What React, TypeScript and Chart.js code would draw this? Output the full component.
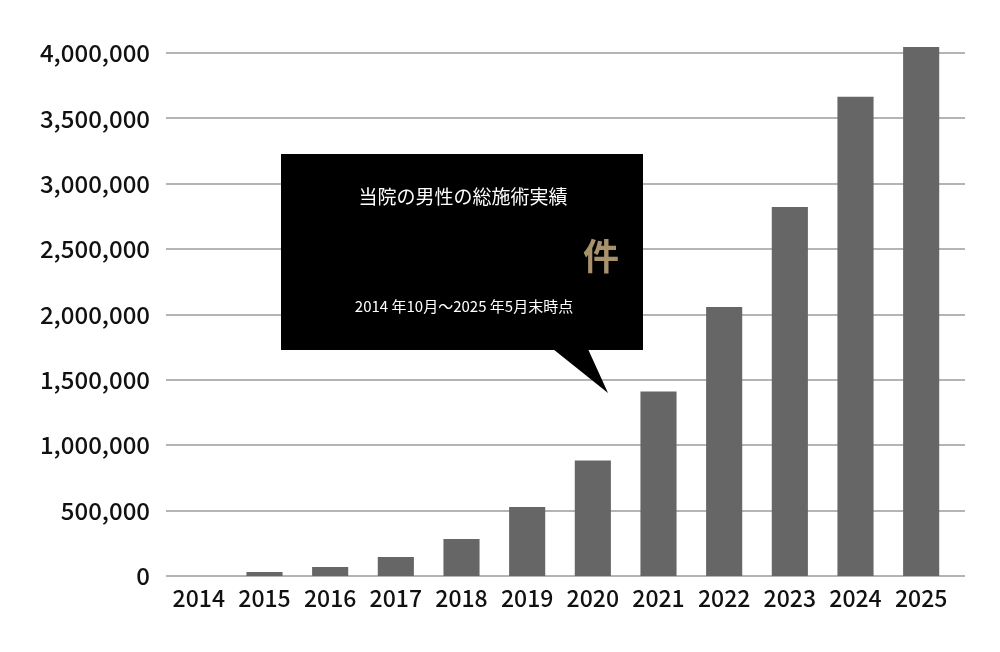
import React, { useEffect, useRef } from 'react';
import { Chart, registerables } from 'chart.js';

Chart.register(...registerables);

const years = ['2014', '2015', '2016', '2017', '2018', '2019', '2020', '2021', '2022', '2023', '2024', '2025'];
const totals = [0, 30000, 68000, 145000, 283000, 528000, 884000, 1412000, 2057000, 2823000, 3665000, 4046000];
const yTicks = [0, 500000, 1000000, 1500000, 2000000, 2500000, 3000000, 3500000, 4000000];

const calloutTitle = '当院の男性の総施術実績';
const calloutUnit = '件';
const calloutPeriod = '2014 年10月～2025 年5月末時点';

const FONT = '"Noto Sans CJK JP", "Noto Sans", sans-serif';

// horizontal grid lines run a bit past the last bar, like the original
const gridPlugin = {
  id: 'gridLines',
  beforeDatasetsDraw(chart: any) {
    const { ctx, chartArea, scales } = chart;
    ctx.save();
    ctx.strokeStyle = '#b4b4b4';
    ctx.lineWidth = 2;
    yTicks.forEach((v) => {
      const y = Math.round(scales.y.getPixelForValue(v));
      ctx.beginPath();
      ctx.moveTo(chartArea.left, y);
      ctx.lineTo(chartArea.right + 11, y);
      ctx.stroke();
    });
    ctx.restore();
  },
};

const calloutPlugin = {
  id: 'callout',
  afterDraw(chart: any) {
    const { ctx } = chart;
    ctx.save();
    ctx.fillStyle = '#000';
    ctx.fillRect(281, 154, 362, 196);
    ctx.beginPath();
    ctx.moveTo(553, 349);
    ctx.lineTo(588, 349);
    ctx.lineTo(608, 393);
    ctx.closePath();
    ctx.fill();

    ctx.textAlign = 'center';
    ctx.textBaseline = 'middle';
    ctx.fillStyle = '#fff';
    ctx.font = `19px ${FONT}`;
    ctx.fillText(calloutTitle, 463, 197);
    ctx.font = `15px ${FONT}`;
    ctx.fillText(calloutPeriod, 464, 306);
    ctx.fillStyle = '#a8916b';
    ctx.font = `bold 36px ${FONT}`;
    ctx.fillText(calloutUnit, 601, 256);
    ctx.restore();
  },
};

const App: React.FC = () => {
  const chartRef = useRef<HTMLCanvasElement | null>(null);
  const chartInstance = useRef<Chart | null>(null);

  useEffect(() => {
    document.body.style.margin = '0';
    if (!chartRef.current) return;
    const ctx = chartRef.current.getContext('2d');
    if (!ctx) return;

    chartInstance.current = new Chart(ctx, {
      type: 'bar',
      data: {
        labels: years,
        datasets: [{
          label: '総施術実績',
          data: totals,
          backgroundColor: '#666666',
          borderWidth: 0,
          categoryPercentage: 1,
          barPercentage: 0.55,
          clip: false,
        }],
      },
      options: {
        responsive: true,
        maintainAspectRatio: false,
        animation: false,
        layout: { padding: { top: 53, right: 46, bottom: 0, left: 0 } },
        plugins: {
          legend: { display: false },
          tooltip: { enabled: false },
        },
        scales: {
          x: {
            grid: { display: false, drawTicks: false },
            border: { display: false },
            ticks: {
              color: '#111',
              font: { family: FONT, size: 23, weight: 500 },
              padding: 8,
              maxRotation: 0,
            },
            afterFit: (s: any) => { s.height = 76; },
          },
          y: {
            min: 0,
            max: 4000000,
            grid: { display: false, drawTicks: false },
            border: { display: false },
            afterBuildTicks: (s: any) => { s.ticks = yTicks.map((v) => ({ value: v })); },
            ticks: {
              color: '#111',
              font: { family: FONT, size: 24, weight: 500 },
              padding: 16,
              callback: (v: any) => Number(v).toLocaleString('en-US'),
            },
            afterFit: (s: any) => { s.width = 166; },
          },
        },
      },
      plugins: [gridPlugin, calloutPlugin],
    });

    return () => {
      if (chartInstance.current) chartInstance.current.destroy();
    };
  }, []);

  return (
    <div style={{ width: 1000, height: 652, position: 'relative', background: '#fff' }}>
      <canvas ref={chartRef} />
    </div>
  );
};

export default App;
